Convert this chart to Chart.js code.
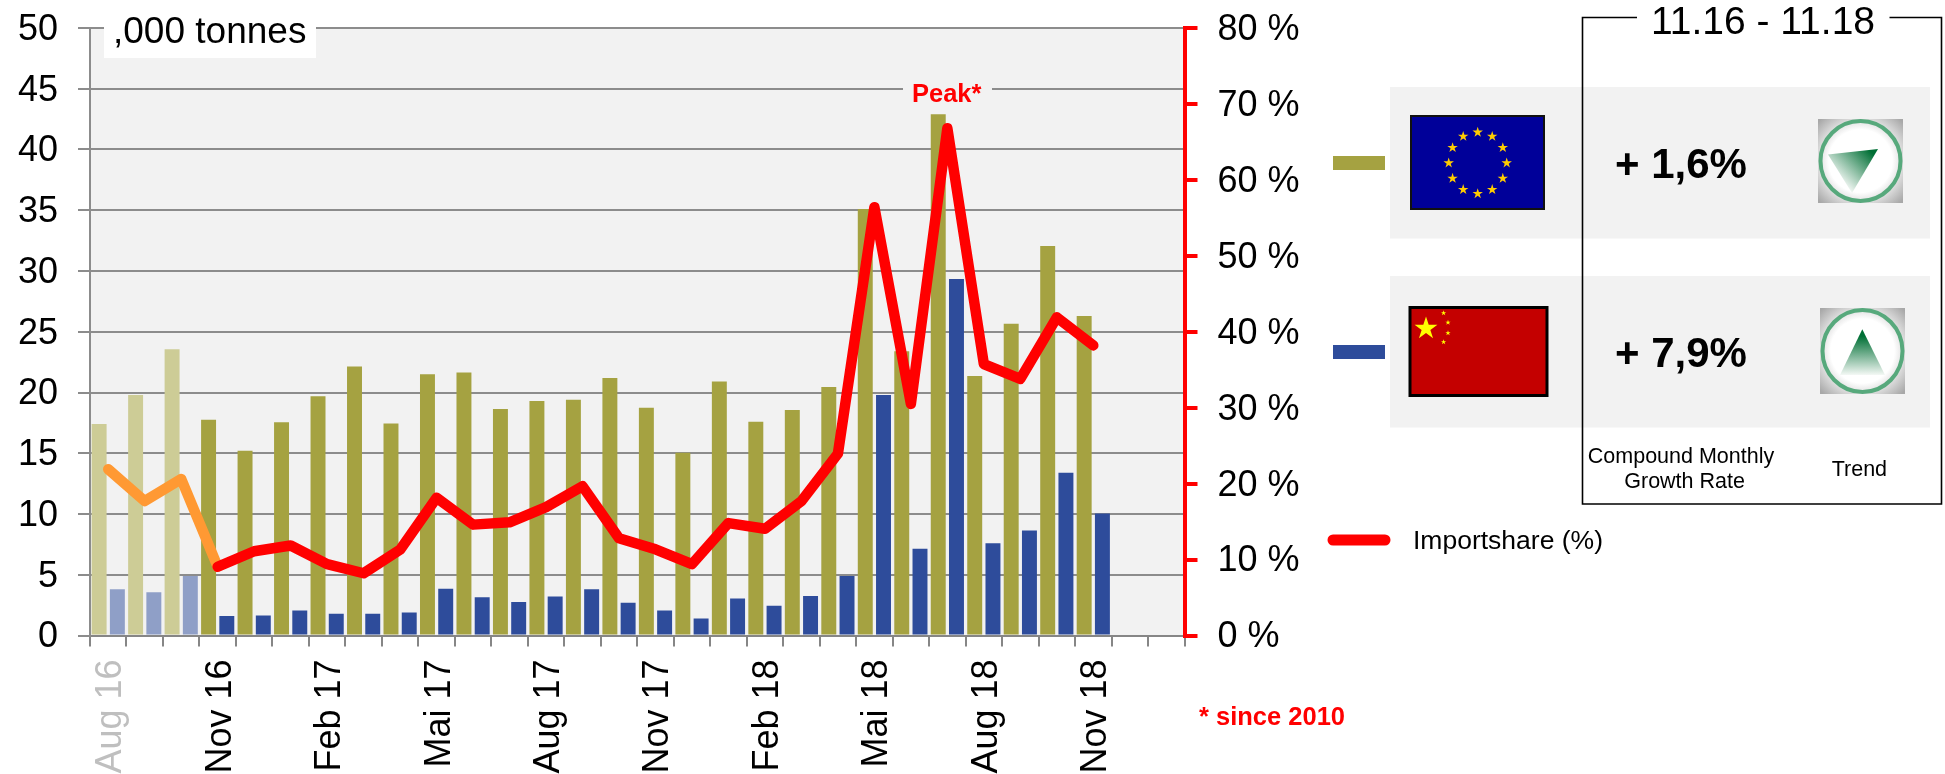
<!DOCTYPE html>
<html>
<head>
<meta charset="utf-8">
<title>Imports</title>
<script src="https://cdn.jsdelivr.net/npm/chart.js@4"></script>
<style>
html, body { margin: 0; padding: 0; background: #fff; overflow: hidden; }
#wrap { position: relative; width: 1945px; height: 774px; font-family: "Liberation Sans", Arial, sans-serif; }
#chart { position: absolute; left: 0; top: 0; }
#panel { position: absolute; left: 0; top: 0; }
.note { position: absolute; white-space: nowrap; line-height: 1; }
</style>
</head>
<body>
<div id="wrap">
	<canvas id="chart" width="1945" height="774"></canvas>
	<svg id="panel" width="1945" height="774"></svg>
	<div class="note" style="left:104px;top:10px;width:212px;height:48px;background:#fff"></div>
	<div class="note" style="left:113px;top:12px;font-size:37px">,000 tonnes</div>
	<div class="note" style="left:903px;top:80px;width:89px;height:28px;background:#f2f2f2"></div>
	<div class="note" style="left:912px;top:81px;font-size:25.5px;font-weight:bold;color:#ff0000">Peak*</div>
	<div class="note" style="left:1199px;top:704px;font-size:25.5px;font-weight:bold;color:#ff0000">* since 2010</div>
</div>
<script>
var months = ["Aug 16","Sep 16","Okt 16","Nov 16","Dez 16","Jan 17","Feb 17","Mrz 17","Apr 17","Mai 17","Jun 17","Jul 17","Aug 17","Sep 17","Okt 17","Nov 17","Dez 17","Jan 18","Feb 18","Mrz 18","Apr 18","Mai 18","Jun 18","Jul 18","Aug 18","Sep 18","Okt 18","Nov 18","",""];
var euValues = [17.4,19.8,23.55,17.75,15.2,17.55,19.7,22.15,17.45,21.5,21.65,18.65,19.3,19.4,21.2,18.75,15.05,20.9,17.6,18.55,20.45,35.1,23.4,42.9,21.35,25.65,32.05,26.3,null,null];
var chinaValues = [3.8,3.55,4.9,1.6,1.65,2.05,1.8,1.8,1.9,3.85,3.15,2.75,3.2,3.8,2.7,2.05,1.4,3.05,2.45,3.25,4.9,19.8,7.15,29.35,7.6,8.65,13.4,10.05,null,null];
var importShare = [21.9,17.7,20.6,9.05,11.1,11.85,9.4,8.2,11.3,18.15,14.6,14.9,16.9,19.65,12.8,11.35,9.4,14.8,14.05,17.7,23.95,56.4,30.5,66.8,35.75,33.8,41.9,38.2,null,null];

// first three months are faded in the original
var fadedMonths = 3;

var plotBackground = {
	id: "plotBackground",
	beforeDraw: function(chart) {
		var a = chart.chartArea;
		chart.ctx.fillStyle = "#f2f2f2";
		chart.ctx.fillRect(a.left, a.top, a.right - a.left, a.bottom - a.top);
	}
};

var font = { family: "'Liberation Sans', Arial, sans-serif", size: 36 };

// fixed axis size, and no extra room for the half label at the ends
function fixSize(scale, w, h) {
	if (w) scale.width = w;
	if (h) scale.height = h;
	scale.paddingTop = 0;
	scale.paddingBottom = 0;
	scale.paddingLeft = 0;
	scale.paddingRight = 0;
}

new Chart(document.getElementById("chart"), {
	type: "bar",
	plugins: [plotBackground],
	data: {
		labels: months,
		datasets: [
			{
				type: "line",
				label: "Importshare (%)",
				data: importShare,
				yAxisID: "yShare",
				order: 0,
				borderColor: "#ff0000",
				borderWidth: 10.5,
				borderCapStyle: "round",
				borderJoinStyle: "round",
				pointRadius: 0,
				tension: 0,
				segment: {
					borderColor: function(ctx) { return ctx.p0DataIndex < fadedMonths ? "#ff9933" : "#ff0000"; }
				}
			},
			{
				label: "EU",
				data: euValues,
				yAxisID: "y",
				order: 1,
				backgroundColor: function(ctx) { return ctx.dataIndex < fadedMonths ? "#cdcc96" : "#a5a241"; }
			},
			{
				label: "China",
				data: chinaValues,
				yAxisID: "y",
				order: 2,
				backgroundColor: function(ctx) { return ctx.dataIndex < fadedMonths ? "#8f9fc7" : "#2e4c9b"; }
			}
		]
	},
	options: {
		responsive: false,
		animation: false,
		layout: { padding: { top: 28, left: 0, right: 0, bottom: 0 } },
		plugins: { legend: { display: false }, title: { display: false }, tooltip: { enabled: false } },
		datasets: { bar: { barPercentage: 0.82, categoryPercentage: 1 } },
		scales: {
			x: {
				offset: true,
				afterFit: function(scale) { fixSize(scale, 0, 138.5); },
				grid: { offset: true, drawOnChartArea: false, color: "#868686", lineWidth: 2, tickLength: 11 },
				border: { color: "#868686", width: 2 },
				ticks: {
					autoSkip: false,
					minRotation: 90,
					maxRotation: 90,
					padding: 13,
					labelOffset: 3,
					font: font,
					color: function(ctx) { return ctx.index < fadedMonths ? "#bfbfbf" : "#000000"; },
					callback: function(value, index) { return index % 3 == 0 ? this.getLabelForValue(value) : ""; }
				}
			},
			y: {
				position: "left",
				min: 0,
				max: 50,
				afterFit: function(scale) { fixSize(scale, 90, 0); },
				grid: { color: "#8c8c8c", lineWidth: 2, tickLength: 12 },
				border: { color: "#8c8c8c", width: 2 },
				ticks: { stepSize: 5, padding: 20, labelOffset: 2, font: font, color: "#000000" }
			},
			yShare: {
				position: "right",
				min: 0,
				max: 80,
				afterFit: function(scale) { fixSize(scale, 760.5, 0); },
				grid: { drawOnChartArea: false, color: "#ff0000", lineWidth: 4, tickLength: 13 },
				border: { color: "#ff0000", width: 4 },
				ticks: {
					stepSize: 10,
					padding: 20,
					labelOffset: 2,
					font: font,
					color: "#000000",
					callback: function(value) { return value + " %"; }
				}
			}
		}
	}
});

// legend, flags and trend panel to the right of the chart
var svg = document.getElementById("panel");
var ns = "http://www.w3.org/2000/svg";
function add(parent, tag, attrs, text) {
	var el = document.createElementNS(ns, tag);
	for (var k in attrs) el.setAttribute(k, attrs[k]);
	if (text) el.textContent = text;
	parent.appendChild(el);
	return el;
}
function star(cx, cy, r) {
	var pts = [];
	for (var i = 0; i < 10; i++) {
		var rad = i % 2 == 0 ? r : r * 0.382;
		var ang = -Math.PI / 2 + i * Math.PI / 5;
		pts.push((cx + rad * Math.cos(ang)).toFixed(2) + "," + (cy + rad * Math.sin(ang)).toFixed(2));
	}
	return pts.join(" ");
}
function label(x, y, size, str, weight, anchor) {
	add(svg, "text", {
		x: x, y: y, "font-size": size, "font-weight": weight || "normal", "text-anchor": anchor || "middle",
		"font-family": "'Liberation Sans', Arial, sans-serif", fill: "#000"
	}, str);
}

var defs = add(svg, "defs", {});
var glow = add(defs, "radialGradient", { id: "glow", cx: "50%", cy: "50%", r: "68%" });
add(glow, "stop", { offset: "55%", "stop-color": "#ffffff" });
add(glow, "stop", { offset: "100%", "stop-color": "#a8a8a8" });
var up = add(defs, "linearGradient", { id: "up", x1: "0", y1: "0", x2: "0", y2: "1" });
add(up, "stop", { offset: "15%", "stop-color": "#006f35" });
add(up, "stop", { offset: "100%", "stop-color": "#f4f8f5" });
var ne = add(defs, "linearGradient", { id: "ne", x1: "1", y1: "0", x2: "0.1", y2: "0.8" });
add(ne, "stop", { offset: "12%", "stop-color": "#006f35" });
add(ne, "stop", { offset: "88%", "stop-color": "#f4f8f5" });

// grey rows
add(svg, "rect", { x: 1390, y: 87, width: 540, height: 151.5, fill: "#f2f2f2" });
add(svg, "rect", { x: 1390, y: 276, width: 540, height: 151.5, fill: "#f2f2f2" });

// legend swatches
add(svg, "rect", { x: 1333, y: 156, width: 52, height: 14, fill: "#a5a241" });
add(svg, "rect", { x: 1333, y: 345, width: 52, height: 14, fill: "#2e4c9b" });
add(svg, "line", { x1: 1333, y1: 540, x2: 1385, y2: 540, stroke: "#ff0000", "stroke-width": 11, "stroke-linecap": "round" });
label(1413, 549, 26.5, "Importshare (%)", "normal", "start");

// period box with a gap for its title
add(svg, "path", {
	d: "M1637 17.5H1582.5V504H1941.5V17.5H1889.5",
	fill: "none", stroke: "#000", "stroke-width": 1.6
});
label(1763, 34, 39, "11.16 - 11.18");

// EU flag
add(svg, "rect", { x: 1411, y: 116, width: 133, height: 93, fill: "#000099", stroke: "#111", "stroke-width": 2 });
for (var i = 0; i < 12; i++) {
	var a = i * Math.PI / 6;
	add(svg, "polygon", { points: star(1477.7 + 29 * Math.sin(a), 163 - 30.7 * Math.cos(a), 5.5), fill: "#ffcc00" });
}

// China flag
add(svg, "rect", { x: 1410, y: 307.5, width: 137, height: 88, fill: "#c40000", stroke: "#000", "stroke-width": 3 });
add(svg, "polygon", { points: star(1426, 328.5, 12), fill: "#ffff00" });
add(svg, "polygon", { points: star(1443.6, 313, 2.8), fill: "#ffff00" });
add(svg, "polygon", { points: star(1448, 322.5, 2.8), fill: "#ffff00" });
add(svg, "polygon", { points: star(1448, 333, 2.8), fill: "#ffff00" });
add(svg, "polygon", { points: star(1443.6, 342, 2.8), fill: "#ffff00" });

// growth rates
label(1681, 178, 42, "+ 1,6%", "bold");
label(1681, 367, 42, "+ 7,9%", "bold");

// trend icons
add(svg, "rect", { x: 1818, y: 119, width: 85, height: 84, fill: "url(#glow)" });
add(svg, "ellipse", { cx: 1860.5, cy: 161, rx: 40, ry: 40, fill: "none", stroke: "#57a97c", "stroke-width": 4 });
add(svg, "polygon", { points: "1878,149 1828,154.6 1852,193", fill: "url(#ne)" });
add(svg, "rect", { x: 1820, y: 308, width: 85, height: 86, fill: "url(#glow)" });
add(svg, "ellipse", { cx: 1862.5, cy: 351, rx: 40, ry: 41, fill: "none", stroke: "#57a97c", "stroke-width": 4 });
add(svg, "polygon", { points: "1862.3,329.3 1840,375 1885,375", fill: "url(#up)" });

// column captions
label(1681, 463, 21.5, "Compound Monthly");
label(1684.6, 488, 21.5, "Growth Rate");
label(1859.4, 476, 21.5, "Trend");
</script>
</body>
</html>
